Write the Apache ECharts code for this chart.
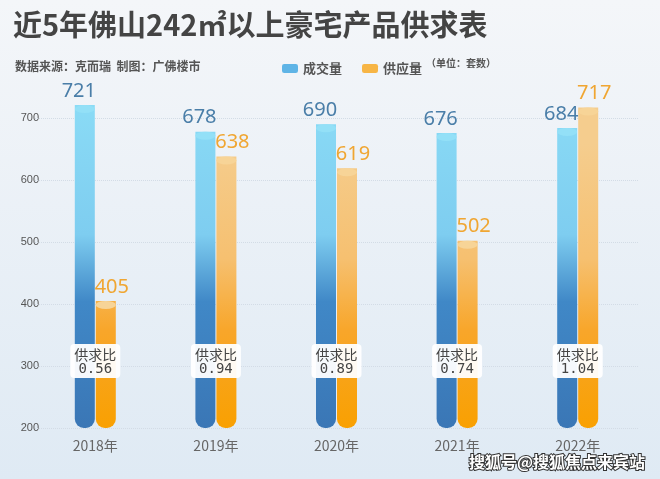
<!DOCTYPE html>
<html>
<head>
<meta charset="utf-8">
<script src="https://cdn.jsdelivr.net/npm/echarts@6/dist/echarts.min.js"></script>
<style>
  html, body { margin: 0; padding: 0; }
  #chart { width: 660px; height: 479px; }
</style>
</head>
<body>
<div id="chart"></div>
<script>
const years = ['2018年', '2019年', '2020年', '2021年', '2022年'];
const dealVolume = [721, 678, 690, 676, 684];
const supplyVolume = [405, 638, 619, 502, 717];
const ratios = ['0.56', '0.94', '0.89', '0.74', '1.04'];
const gridValues = [200, 300, 400, 500, 600, 700];
const ratioLabelY = 308;

const chart = echarts.init(document.getElementById('chart'));

// 渐变按画布像素走，深浅交界大约在 500 附近
const blueFill = new echarts.graphic.LinearGradient(0, 0, 0, 479, [
    { offset: 0.2, color: '#8bdcf6' },
    { offset: 0.49, color: '#7ecdf0' },
    { offset: 0.63, color: '#4088c7' },
    { offset: 0.9, color: '#3a76b5' }
], true);
const orangeFill = new echarts.graphic.LinearGradient(0, 0, 0, 479, [
    { offset: 0.3, color: '#f5cd8e' },
    { offset: 0.54, color: '#f6c070' },
    { offset: 0.69, color: '#f8a62a' },
    { offset: 0.9, color: '#f9a000' }
], true);

const barCommon = {
    type: 'bar',
    barWidth: 20,
    barGap: '5%',
    z: 2
};
const capCommon = {
    type: 'pictorialBar',
    symbol: 'circle',
    symbolSize: [20, 8],
    symbolPosition: 'end',
    barWidth: 20,
    barGap: '5%',
    silent: true,
    z: 3
};

chart.setOption({
    backgroundColor: new echarts.graphic.LinearGradient(0, 0, 0, 1, [
        { offset: 0, color: '#f4f6f9' },
        { offset: 1, color: '#dfeaf4' }
    ]),
    animation: false,
    title: [{
        text: '近5年佛山242㎡以上豪宅产品供求表',
        left: 8, top: 5,
        textStyle: { fontSize: 29, fontWeight: 'bold', color: '#444', fontFamily: 'Noto Sans CJK SC' }
    }, {
        text: '数据来源：克而瑞  制图：广佛楼市',
        left: 10, top: 55,
        textStyle: { fontSize: 12, fontWeight: 'bold', color: '#555', fontFamily: 'Noto Sans CJK SC' }
    }],
    legend: {
        left: 277, top: 57,
        itemWidth: 16, itemHeight: 9,
        itemGap: 20,
        icon: 'roundRect',
        textStyle: { fontSize: 13, fontWeight: 'bold', color: '#555', fontFamily: 'Noto Sans CJK SC' },
        data: [
            { name: '成交量', itemStyle: { color: '#5fb4e6' } },
            { name: '供应量', itemStyle: { color: '#f7b545' } }
        ]
    },
    graphic: [{
        type: 'text', left: 426, top: 58,
        style: { text: '（单位：套数）', fill: '#555', font: 'bold 10px "Noto Sans CJK SC"' }
    }, {
        type: 'text', right: 14, bottom: 8,
        style: {
            text: '搜狐号@搜狐焦点来宾站',
            font: 'bold 16px "Noto Sans CJK SC"',
            fill: '#fff', stroke: '#333', lineWidth: 2
        }
    }],
    grid: { left: 35, right: 22, top: 87, bottom: 51 },
    xAxis: {
        type: 'category',
        data: years,
        axisLine: { show: false },
        axisTick: { show: false },
        axisLabel: { fontSize: 14, color: '#666', margin: 11, fontFamily: 'Noto Sans CJK SC' }
    },
    yAxis: {
        type: 'value',
        min: 200, max: 750, interval: 100,
        axisLine: { show: false },
        axisTick: { show: false },
        axisLabel: { fontSize: 11, color: '#555', margin: -4, showMaxLabel: false },
        splitLine: { show: false }
    },
    series: [
        Object.assign({}, barCommon, {
            name: '成交量',
            data: dealVolume,
            itemStyle: { color: blueFill, borderRadius: [0, 0, 9, 9] },
            label: {
                show: true, position: 'top', distance: 4, offset: [-6, 0],
                fontSize: 20, color: '#4a7ea8', fontFamily: 'Noto Sans'
            },
            markLine: {
                silent: true,
                z: 1,
                symbol: 'none',
                label: { show: false },
                lineStyle: { color: '#d3dce6', type: 'dotted', width: 1 },
                data: gridValues.map(v => ({ yAxis: v }))
            }
        }),
        Object.assign({}, barCommon, {
            name: '供应量',
            data: supplyVolume,
            itemStyle: { color: orangeFill, borderRadius: [0, 0, 9, 9] },
            label: {
                show: true, position: 'top', distance: 4, offset: [6, 0],
                fontSize: 20, color: '#f0a632', fontFamily: 'Noto Sans'
            }
        }),
        Object.assign({}, capCommon, {
            name: 'cap1',
            data: dealVolume,
            itemStyle: { color: '#93e0f7' }
        }),
        Object.assign({}, capCommon, {
            name: 'cap2',
            data: supplyVolume,
            itemStyle: { color: '#f7d497' }
        }),
        {
            type: 'scatter',
            name: 'ratio',
            symbolSize: 0,
            z: 5,
            silent: true,
            itemStyle: { opacity: 1 },
            data: ratios.map((r, i) => [i, ratioLabelY]),
            label: {
                show: true,
                position: 'inside',
                formatter: (p) => '{a|供求比}\n{b|' + ratios[p.dataIndex] + '}',
                backgroundColor: 'rgba(255,255,255,0.95)',
                borderRadius: 4,
                padding: [3, 4, 2, 4],
                rich: {
                    a: { fontSize: 14, color: '#444', lineHeight: 15, fontFamily: 'Noto Sans CJK SC' },
                    b: { fontSize: 14, color: '#444', lineHeight: 14, fontFamily: 'DejaVu Sans Mono' }
                }
            }
        }
    ]
});
</script>
</body>
</html>
